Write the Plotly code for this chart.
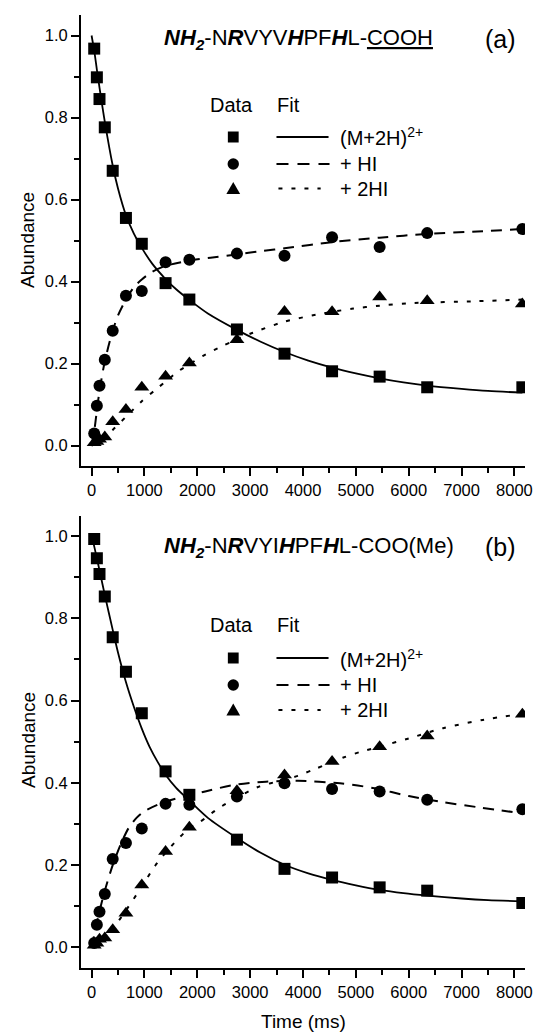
import plotly.graph_objects as go

FONT = "Liberation Sans, Arial, sans-serif"
W, H = 541, 1033
ML, MR, MT, MB = 81, 8, 15, 65

# ---------------- data ----------------
time_ms = [50, 100, 150, 250, 400, 650, 950, 1400, 1850, 2750, 3650, 4550, 5450, 6350, 8150]

a_parent = [0.968, 0.898, 0.845, 0.776, 0.670, 0.555, 0.492, 0.396, 0.356, 0.283, 0.224, 0.181, 0.168, 0.142, 0.142]
a_hi = [0.029, 0.097, 0.146, 0.209, 0.280, 0.365, 0.377, 0.447, 0.453, 0.468, 0.463, 0.508, 0.484, 0.518, 0.528]
a_2hi = [0.007, 0.010, 0.015, 0.021, 0.058, 0.088, 0.142, 0.169, 0.201, 0.258, 0.327, 0.326, 0.362, 0.353, 0.345]

b_parent = [0.993, 0.946, 0.908, 0.853, 0.754, 0.670, 0.569, 0.428, 0.371, 0.262, 0.191, 0.170, 0.146, 0.138, 0.108]
b_hi = [0.011, 0.055, 0.087, 0.130, 0.215, 0.254, 0.289, 0.349, 0.347, 0.367, 0.399, 0.385, 0.379, 0.359, 0.336]
b_2hi = [0.005, 0.010, 0.020, 0.023, 0.043, 0.083, 0.152, 0.233, 0.292, 0.381, 0.419, 0.452, 0.488, 0.514, 0.567]

# fit curves
fa_parent_t = [0, 50, 100, 150, 250, 400, 500, 650, 800, 950, 1150, 1400, 1600, 1850, 2200, 2750, 3200, 3650, 4100, 4550, 5000, 5450, 5900, 6350, 7000, 7500, 8150]
fa_parent = [1.0, 0.963, 0.917, 0.873, 0.79, 0.683, 0.627, 0.562, 0.517, 0.482, 0.443, 0.406, 0.381, 0.355, 0.322, 0.282, 0.253, 0.228, 0.207, 0.19, 0.176, 0.164, 0.154, 0.146, 0.138, 0.133, 0.129]
fa_hi_t = [0, 50, 100, 150, 250, 400, 500, 650, 800, 950, 1150, 1400, 1850, 2250, 2750, 3200, 3650, 4550, 5450, 6350, 7300, 8150]
fa_hi = [0.0, 0.035, 0.085, 0.133, 0.205, 0.28, 0.317, 0.356, 0.386, 0.405, 0.424, 0.438, 0.451, 0.458, 0.466, 0.474, 0.481, 0.496, 0.507, 0.516, 0.522, 0.528]
fa_2hi_t = [0, 100, 250, 400, 650, 950, 1200, 1400, 1650, 1850, 2100, 2450, 2750, 3050, 3650, 4250, 4950, 5450, 6000, 7300, 8150]
fa_2hi = [0.0, 0.005, 0.02, 0.038, 0.07, 0.108, 0.135, 0.156, 0.182, 0.198, 0.218, 0.241, 0.259, 0.275, 0.302, 0.319, 0.334, 0.341, 0.347, 0.352, 0.356]

fb_parent_t = [0, 50, 100, 150, 250, 400, 500, 650, 800, 950, 1100, 1250, 1400, 1600, 1850, 2200, 2750, 3200, 3650, 4100, 4550, 5000, 5450, 5900, 6350, 7000, 7500, 8150]
fb_parent = [1.0, 0.975, 0.946, 0.917, 0.857, 0.772, 0.717, 0.645, 0.585, 0.532, 0.487, 0.451, 0.42, 0.388, 0.357, 0.315, 0.266, 0.23, 0.201, 0.18, 0.164, 0.151, 0.14, 0.132, 0.126, 0.119, 0.115, 0.112]
fb_hi_t = [0, 50, 100, 150, 250, 400, 550, 700, 850, 1000, 1250, 1600, 2150, 2650, 3300, 3900, 4700, 5350, 6000, 6650, 7300, 8150]
fb_hi = [0.0, 0.03, 0.06, 0.088, 0.138, 0.2, 0.25, 0.29, 0.315, 0.331, 0.347, 0.362, 0.379, 0.394, 0.403, 0.405, 0.399, 0.387, 0.368, 0.353, 0.341, 0.326]
fb_2hi_t = [0, 100, 250, 400, 650, 950, 1200, 1500, 1850, 2050, 2400, 2750, 3150, 3650, 3900, 4250, 4750, 5100, 5450, 6000, 6650, 7400, 8150]
fb_2hi = [0.0, 0.008, 0.025, 0.045, 0.09, 0.148, 0.198, 0.245, 0.29, 0.305, 0.338, 0.364, 0.39, 0.408, 0.417, 0.435, 0.461, 0.476, 0.488, 0.508, 0.533, 0.553, 0.568]

x_ticks = [0, 1000, 2000, 3000, 4000, 5000, 6000, 7000, 8000]
y_ticks = [0.0, 0.2, 0.4, 0.6, 0.8, 1.0]

titles = [
    "<b><i>NH<sub>2</sub></i></b>-N<b><i>R</i></b>VYV<b><i>H</i></b>PF<b><i>H</i></b>L-<u>COOH</u>",
    "<b><i>NH<sub>2</sub></i></b>-N<b><i>R</i></b>VYI<b><i>H</i></b>PF<b><i>H</i></b>L-COO(Me)",
]
panel_labels = ["(a)", "(b)"]
legend_names = ["(M+2H)<sup>2+</sup>", "+ HI", "+ 2HI"]

# ---------------- layout helpers ----------------
PW = W - ML - MR
PH = H - MT - MB


def px(x):
    return (x - ML) / PW


def py(y):
    return (H - MB - y) / PH


SOLID = dict(color="black", width=1.8)
DASHED = dict(color="black", width=2, dash="11px,8px")
DOTTED = dict(color="black", width=2, dash="4px,9px")

fig = go.Figure()

panels = [
    ("x", "y", time_ms, (a_parent, a_hi, a_2hi),
     ((fa_parent_t, fa_parent), (fa_hi_t, fa_hi), (fa_2hi_t, fa_2hi))),
    ("x2", "y2", time_ms, (b_parent, b_hi, b_2hi),
     ((fb_parent_t, fb_parent), (fb_hi_t, fb_hi), (fb_2hi_t, fb_2hi))),
]
symbols = [("square", 12), ("circle", 12), ("triangle-up", 13)]
styles = [SOLID, DASHED, DOTTED]

for xa, ya, t, data, fits in panels:
    for (ft, fv), st in zip(fits, styles):
        fig.add_trace(go.Scatter(x=ft, y=fv, mode="lines", line=dict(shape="spline", smoothing=0.8, **st),
                                 xaxis=xa, yaxis=ya, hoverinfo="skip"))
    for d, (sym, sz) in zip(data, symbols):
        fig.add_trace(go.Scatter(x=t, y=d, mode="markers",
                                 marker=dict(symbol=sym, size=sz, color="black", line=dict(width=0)),
                                 xaxis=xa, yaxis=ya))

top_dom = [py(466), 1.0]
bot_dom = [0.0, py(515.5)]

axis_common = dict(showline=True, linecolor="black", linewidth=2, ticks="outside", ticklen=8,
                   tickwidth=2, tickcolor="black", showgrid=False, zeroline=False,
                   ticklabeloverflow="allow",
                   tickfont=dict(family=FONT, size=16.5, color="black"))
xa_common = dict(range=[-200, 8200], tickmode="array", tickvals=x_ticks,
                 ticktext=[str(v) for v in x_ticks],
                 minor=dict(dtick=500, tick0=0, ticklen=5, tickwidth=1.5, ticks="outside",
                            tickcolor="black", showgrid=False), **axis_common)
ya_common = dict(range=[-0.05, 1.05], tickmode="array", tickvals=y_ticks,
                 ticktext=["%.1f" % v for v in y_ticks],
                 minor=dict(dtick=0.1, tick0=0, ticklen=5, tickwidth=1.5, ticks="outside",
                            tickcolor="black", showgrid=False), **axis_common)

fig.update_layout(
    width=W, height=H, margin=dict(l=ML, r=MR, t=MT, b=MB, pad=0),
    paper_bgcolor="white", plot_bgcolor="white", showlegend=False,
    font=dict(family=FONT, color="black", size=16),
    xaxis=dict(domain=[0, 1], anchor="y", **xa_common),
    yaxis=dict(domain=top_dom, anchor="x", **ya_common),
    xaxis2=dict(domain=[0, 1], anchor="y2", **xa_common),
    yaxis2=dict(domain=bot_dom, anchor="x2", **ya_common),
)

ann = []
shapes = []
panel_px = [
    dict(title_y=39, data_y=105, rows=[137, 164, 188.5], ylab=240),
    dict(title_y=547, data_y=625, rows=[658, 685, 710], ylab=740),
]
for i, p in enumerate(panel_px):
    ann.append(dict(x=px(163), y=py(p["title_y"]), xref="paper", yref="paper", text=titles[i],
                    showarrow=False, xanchor="left", yanchor="middle", font=dict(size=22, family=FONT)))
    ann.append(dict(x=px(508), y=py(p["title_y"]), xref="paper", yref="paper", text=panel_labels[i],
                    showarrow=False, xanchor="center", yanchor="middle", font=dict(size=25, family=FONT)))
    ann.append(dict(x=px(210), y=py(p["data_y"]), xref="paper", yref="paper", text="Data",
                    showarrow=False, xanchor="left", yanchor="middle", font=dict(size=20, family=FONT)))
    ann.append(dict(x=px(278), y=py(p["data_y"]), xref="paper", yref="paper", text="Fit",
                    showarrow=False, xanchor="left", yanchor="middle", font=dict(size=20, family=FONT)))
    for j, ry in enumerate(p["rows"]):
        ann.append(dict(x=px(343), y=py(ry), xref="paper", yref="paper", text=legend_names[j],
                        showarrow=False, xanchor="left", yanchor="middle", font=dict(size=20, family=FONT)))
    r0 = p["rows"]
    s = 5.5
    shapes.append(dict(type="rect", xref="paper", yref="paper", x0=px(236 - s), x1=px(236 + s),
                       y0=py(r0[0] - s), y1=py(r0[0] + s), fillcolor="black", line=dict(width=0)))
    shapes.append(dict(type="circle", xref="paper", yref="paper", x0=px(236 - 5.8), x1=px(236 + 5.8),
                       y0=py(r0[1] - 5.8), y1=py(r0[1] + 5.8), fillcolor="black", line=dict(width=0)))
    ty = r0[2]
    shapes.append(dict(type="path", xref="paper", yref="paper",
                       path="M %f,%f L %f,%f L %f,%f Z" % (px(229), py(ty + 5.5), px(243), py(ty + 5.5),
                                                            px(236), py(ty - 6.5)),
                       fillcolor="black", line=dict(width=0)))
    shapes.append(dict(type="line", xref="paper", yref="paper", x0=px(280), x1=px(333),
                       y0=py(r0[0]), y1=py(r0[0]), line=SOLID))
    shapes.append(dict(type="line", xref="paper", yref="paper", x0=px(280), x1=px(334),
                       y0=py(r0[1]), y1=py(r0[1]), line=dict(color="black", width=2, dash="12px,9px")))
    shapes.append(dict(type="line", xref="paper", yref="paper", x0=px(282), x1=px(325),
                       y0=py(r0[2]), y1=py(r0[2]), line=DOTTED))
    ann.append(dict(x=px(27), y=py(p["ylab"]), xref="paper", yref="paper", text="Abundance",
                    showarrow=False, textangle=-90, xanchor="center", yanchor="middle",
                    font=dict(size=19, family=FONT)))

ann.append(dict(x=px(307), y=py(1021.5), xref="paper", yref="paper", text="Time (ms)",
                showarrow=False, xanchor="center", yanchor="middle", font=dict(size=19, family=FONT)))

fig.update_layout(annotations=ann, shapes=shapes)
fig.write_html("out.html")
